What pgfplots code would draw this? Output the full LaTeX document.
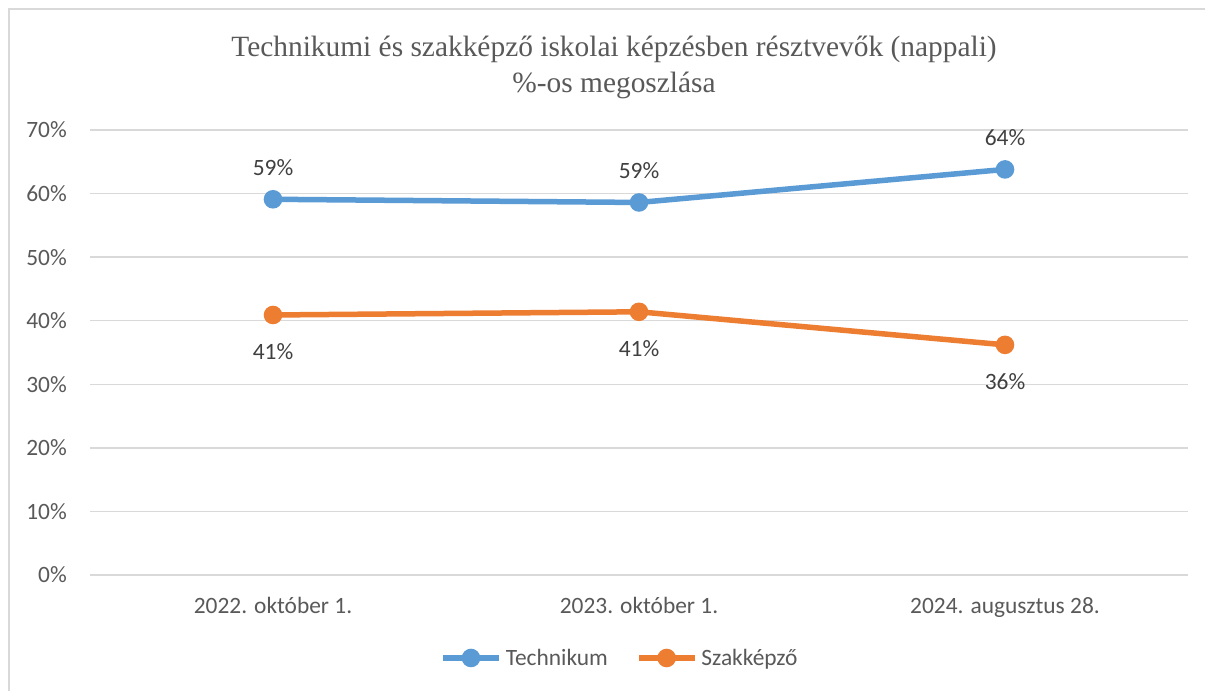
\documentclass[border=0pt]{standalone}
\usepackage{fontspec}
\setmainfont{Carlito}
\newfontfamily\titlefont{Liberation Serif}
\usepackage{pgfplots}
\pgfplotsset{compat=1.18}
\definecolor{tblue}{HTML}{5B9BD5}
\definecolor{torange}{HTML}{ED7D31}
\definecolor{gridgray}{HTML}{D9D9D9}
\definecolor{ticktext}{HTML}{595959}
\definecolor{labeltext}{HTML}{404040}
\newcommand{\cfont}{\fontsize{23.4bp}{28bp}\selectfont}
\begin{document}
\begin{tikzpicture}[x=1bp,y=1bp]
\useasboundingbox (0,0) rectangle (1205,691);
\fill[white] (0,0) rectangle (1205,691);
\draw[gridgray, line width=2bp] (9,0) -- (9,682) -- (1205,682);
\node[font=\titlefont\fontsize{29.4bp}{35bp}\selectfont, text=ticktext, anchor=base] at (614,634) {Technikumi és szakképző iskolai képzésben résztvevők (nappali)};
\node[font=\titlefont\fontsize{29.4bp}{35bp}\selectfont, text=ticktext, anchor=base] at (614,598) {\%-os megoszlása};
\begin{axis}[
  at={(90bp,116bp)}, anchor=south west,
  scale only axis, width=1098bp, height=445bp,
  xmin=-0.5, xmax=2.5, ymin=0, ymax=70,
  xtick={0,1,2},
  xticklabels={2022. október 1., 2023. október 1., 2024. augusztus 28.},
  ytick={0,10,20,30,40,50,60,70},
  yticklabels={0\%,10\%,20\%,30\%,40\%,50\%,60\%,70\%},
  axis line style={draw=none}, major tick style={draw=none},
  ymajorgrids, grid style={gridgray, line width=1.5bp},
  tick label style={font=\cfont, text=ticktext},
  xticklabel style={anchor=north, inner sep=0pt, yshift=-22bp},
  yticklabel style={anchor=east, inner sep=0pt, xshift=-23bp},
  clip=false,
  nodes near coords={\pgfmathprintnumber[fixed,precision=0,assume math mode=true]{\pgfplotspointmeta}\%},
  every node near coord/.append style={font=\cfont, text=labeltext, anchor=center, inner sep=0pt},
  legend style={at={(axis description cs:0.3188,-0.1865)}, anchor=west, draw=none, fill=none,
    font=\cfont, text=ticktext, inner sep=0pt,
    nodes={inner sep=0pt},
    /tikz/every even column/.append style={column sep=28bp}},
  legend columns=2,
  legend image code/.code={\draw[mark repeat=2,mark phase=2,#1] plot coordinates {(0bp,0bp)(28bp,0bp)(56bp,0bp)};},
]
\addplot[color=tblue, line width=5.5bp, mark=*, mark size=6.5bp, mark options={draw=none, fill=tblue},
  every node near coord/.append style={yshift=32bp}]
  coordinates {(0,59.1) (1,58.6) (2,63.8)};
\addlegendentry{\hspace*{4bp}Technikum}
\addplot[color=torange, line width=5.5bp, mark=*, mark size=6.5bp, mark options={draw=none, fill=torange},
  every node near coord/.append style={yshift=-37bp}]
  coordinates {(0,40.9) (1,41.4) (2,36.2)};
\addlegendentry{\hspace*{4bp}Szakképző}
\end{axis}
\end{tikzpicture}
\end{document}
